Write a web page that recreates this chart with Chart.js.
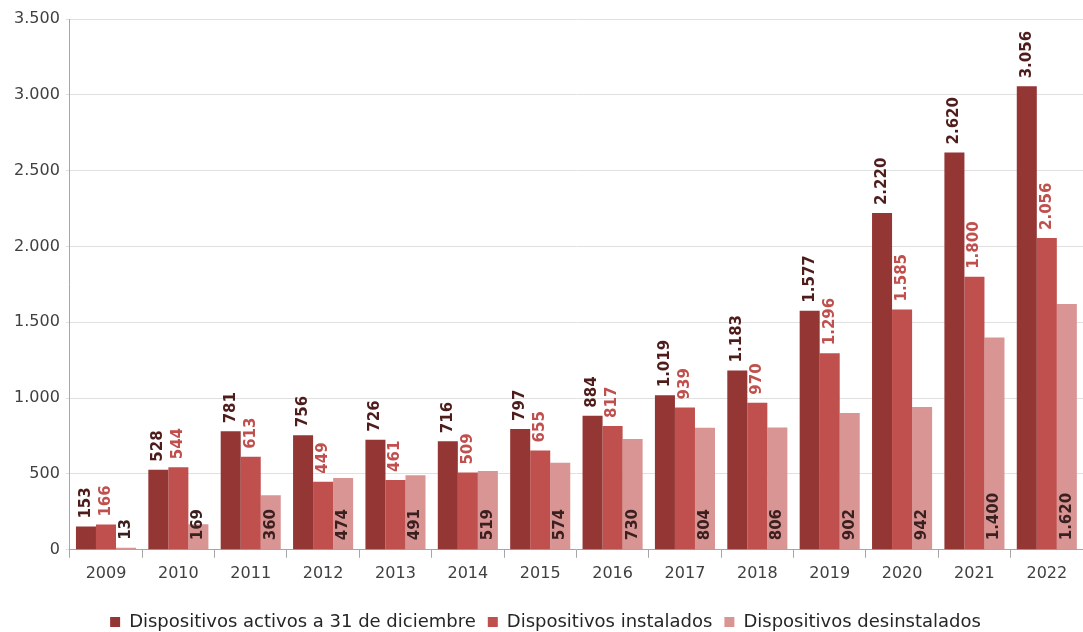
<!DOCTYPE html>
<html>
<head>
<meta charset="utf-8">
<script src="https://cdn.jsdelivr.net/npm/chart.js@4"></script>
<style>
  html, body { margin: 0; padding: 0; background: #fff; }
  #wrap { width: 1083px; height: 632px; }
</style>
</head>
<body>
<div id="wrap"><canvas id="chart"></canvas></div>
<script>
const years = ['2009', '2010', '2011', '2012', '2013', '2014', '2015', '2016', '2017', '2018', '2019', '2020', '2021', '2022'];
const activos = [153, 528, 781, 756, 726, 716, 797, 884, 1019, 1183, 1577, 2220, 2620, 3056];
const instalados = [166, 544, 613, 449, 461, 509, 655, 817, 939, 970, 1296, 1585, 1800, 2056];
const desinstalados = [13, 169, 360, 474, 491, 519, 574, 730, 804, 806, 902, 942, 1400, 1620];

const FONT = "'DejaVu Sans', sans-serif";

function fmt(v) {
    return String(v).replace(/\B(?=(\d{3})+(?!\d))/g, '.');
}

// etiquetas giradas encima o dentro de cada barra
const barLabels = {
    id: 'barLabels',
    afterDatasetsDraw(chart) {
        const ctx = chart.ctx;
        ctx.save();
        ctx.font = 'bold 15px ' + FONT;
        ctx.textBaseline = 'middle';
        ctx.textAlign = 'left';
        chart.data.datasets.forEach((ds, i) => {
            const meta = chart.getDatasetMeta(i);
            meta.data.forEach((bar, j) => {
                const text = fmt(ds.data[j]);
                const inside = ds.labelInside && (bar.base - bar.y) > 15;
                ctx.fillStyle = inside ? '#3b2020' : ds.labelColor;
                ctx.save();
                ctx.translate(bar.x, inside ? bar.base - 9 : bar.y - 8);
                ctx.rotate(-Math.PI / 2);
                ctx.fillText(text, 0, 0);
                ctx.restore();
            });
        });
        ctx.restore();
    }
};

new Chart(document.getElementById('chart'), {
    type: 'bar',
    data: {
        labels: years,
        datasets: [{
            label: 'Dispositivos activos a 31 de diciembre',
            data: activos,
            backgroundColor: '#943634',
            labelColor: '#4e1c1b'
        }, {
            label: 'Dispositivos instalados',
            data: instalados,
            backgroundColor: '#c0504d',
            labelColor: '#c0504d'
        }, {
            label: 'Dispositivos desinstalados',
            data: desinstalados,
            backgroundColor: '#d99594',
            labelColor: '#3b2020',
            labelInside: true
        }]
    },
    options: {
        responsive: true,
        maintainAspectRatio: false,
        animation: false,
        layout: { padding: { top: 19, right: 0, left: 8, bottom: -9 } },
        datasets: {
            bar: { categoryPercentage: 0.83, barPercentage: 1 }
        },
        scales: {
            x: {
                grid: { drawOnChartArea: false, drawTicks: true, tickLength: 8, color: '#a6a6a6', offset: true },
                border: { color: '#a6a6a6' },
                ticks: { color: '#404040', font: { family: FONT, size: 16 }, padding: 6 },
                afterFit: scale => { scale.height += 12; }
            },
            y: {
                min: 0,
                max: 3500,
                ticks: {
                    stepSize: 500,
                    color: '#404040',
                    font: { family: FONT, size: 16 },
                    padding: 6,
                    callback: v => fmt(v)
                },
                grid: { color: '#e0e0e0', drawTicks: true, tickLength: 4 },
                border: { color: '#a6a6a6' }
            }
        },
        plugins: {
            legend: {
                position: 'bottom',
                labels: {
                    boxWidth: 10,
                    boxHeight: 10,
                    color: '#262626',
                    padding: 12,
                    font: { family: FONT, size: 18 }
                }
            },
            tooltip: { enabled: false }
        }
    },
    plugins: [barLabels]
});
</script>
</body>
</html>
